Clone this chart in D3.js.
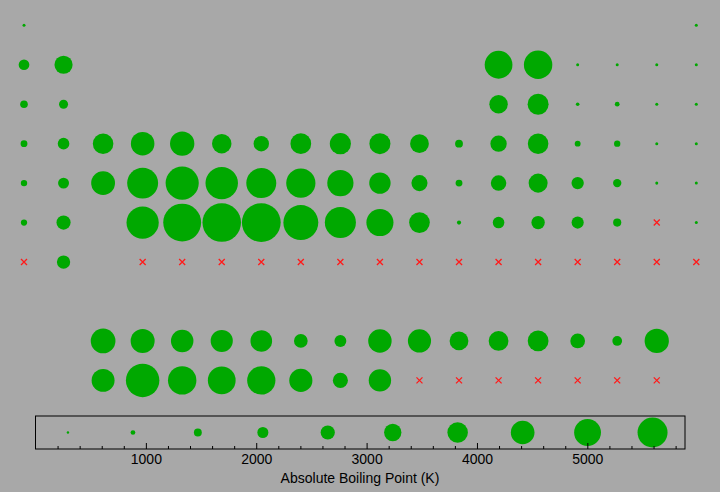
<!DOCTYPE html>
<html>
<head>
<meta charset="utf-8">
<script src="https://cdn.jsdelivr.net/npm/d3@7"></script>
<style>
  body { margin: 0; background: #a8a8a8; }
  svg { display: block; font-family: "Liberation Sans", Arial, sans-serif; }
</style>
</head>
<body>
<script>
const width = 720;
const height = 492;

// element symbol, group (column), period row (9 = lanthanides, 10 = actinides), boiling point in K (null = unknown)
const symbols = [
  "H", "He",
  "Li", "Be", "B", "C", "N", "O", "F", "Ne",
  "Na", "Mg", "Al", "Si", "P", "S", "Cl", "Ar",
  "K", "Ca", "Sc", "Ti", "V", "Cr", "Mn", "Fe", "Co", "Ni", "Cu", "Zn", "Ga", "Ge", "As", "Se", "Br", "Kr",
  "Rb", "Sr", "Y", "Zr", "Nb", "Mo", "Tc", "Ru", "Rh", "Pd", "Ag", "Cd", "In", "Sn", "Sb", "Te", "I", "Xe",
  "Cs", "Ba", "Hf", "Ta", "W", "Re", "Os", "Ir", "Pt", "Au", "Hg", "Tl", "Pb", "Bi", "Po", "At", "Rn",
  "Fr", "Ra", "Rf", "Db", "Sg", "Bh", "Hs", "Mt", "Ds", "Rg", "Cn", "Nh", "Fl", "Mc", "Lv", "Ts", "Og",
  "La", "Ce", "Pr", "Nd", "Pm", "Sm", "Eu", "Gd", "Tb", "Dy", "Ho", "Er", "Tm", "Yb", "Lu",
  "Ac", "Th", "Pa", "U", "Np", "Pu", "Am", "Cm", "Bk", "Cf", "Es", "Fm", "Md", "No", "Lr"
];
const groups = [
  1, 18,
  1, 2, 13, 14, 15, 16, 17, 18,
  1, 2, 13, 14, 15, 16, 17, 18,
  1, 2, 3, 4, 5, 6, 7, 8, 9, 10, 11, 12, 13, 14, 15, 16, 17, 18,
  1, 2, 3, 4, 5, 6, 7, 8, 9, 10, 11, 12, 13, 14, 15, 16, 17, 18,
  1, 2, 4, 5, 6, 7, 8, 9, 10, 11, 12, 13, 14, 15, 16, 17, 18,
  1, 2, 4, 5, 6, 7, 8, 9, 10, 11, 12, 13, 14, 15, 16, 17, 18,
  3, 4, 5, 6, 7, 8, 9, 10, 11, 12, 13, 14, 15, 16, 17,
  3, 4, 5, 6, 7, 8, 9, 10, 11, 12, 13, 14, 15, 16, 17
];
const periods = [
  1, 1,
  2, 2, 2, 2, 2, 2, 2, 2,
  3, 3, 3, 3, 3, 3, 3, 3,
  4, 4, 4, 4, 4, 4, 4, 4, 4, 4, 4, 4, 4, 4, 4, 4, 4, 4,
  5, 5, 5, 5, 5, 5, 5, 5, 5, 5, 5, 5, 5, 5, 5, 5, 5, 5,
  6, 6, 6, 6, 6, 6, 6, 6, 6, 6, 6, 6, 6, 6, 6, 6, 6,
  7, 7, 7, 7, 7, 7, 7, 7, 7, 7, 7, 7, 7, 7, 7, 7, 7,
  9, 9, 9, 9, 9, 9, 9, 9, 9, 9, 9, 9, 9, 9, 9,
  10, 10, 10, 10, 10, 10, 10, 10, 10, 10, 10, 10, 10, 10, 10
];
const boilingPoints = [
  20.28, 4.22,
  1615, 2742, 4200, 4300, 77.36, 90.2, 85.03, 27.07,
  1156, 1363, 2792, 3173, 550, 717.8, 239.1, 87.3,
  1032, 1757, 3109, 3560, 3680, 2944, 2334, 3134, 3200, 3186, 2835, 1180, 2477, 3106, 887, 958, 332, 119.9,
  961, 1655, 3609, 4682, 5017, 4912, 4538, 4423, 3968, 3236, 2435, 1040, 2345, 2875, 1860, 1261, 457.4, 165.1,
  944, 2143, 4876, 5731, 5828, 5869, 5285, 4701, 4098, 3129, 629.9, 1746, 2022, 1837, 1235, null, 211.3,
  null, 2010, null, null, null, null, null, null, null, null, null, null, null, null, null, null, null,
  3737, 3633, 3403, 3347, 3273, 2067, 1802, 3546, 3503, 2840, 2993, 3141, 2223, 1469, 3675,
  3471, 5061, 4300, 4200, 4273, 3501, 2284, 3383, null, null, null, null, null, null, null
];

// legend sample values (K)
const legendValues = [294, 883, 1471, 2060, 2648, 3237, 3825, 4414, 5002, 5591];
const majorTicks = [1000, 2000, 3000, 4000, 5000];
const axisLabel = "Absolute Boiling Point (K)";

const elements = symbols.map((s, i) => ({
  symbol: s, group: groups[i], period: periods[i], bp: boilingPoints[i]
}));

const svg = d3.select("body").append("svg")
  .attr("width", width)
  .attr("height", height);

svg.append("rect")
  .attr("width", width)
  .attr("height", height)
  .attr("fill", "#a8a8a8");

const colScale = d3.scaleLinear().domain([1, 18]).range([24, 696.3]);
const rowScale = d3.scaleLinear().domain([1, 10]).range([25.3, 380.4]);
const rScale = d3.scaleLinear().domain([0, 5869]).range([0, 19.4]);

const green = "#00a800";
const red = "#ff1a1a";

const table = svg.append("g").attr("class", "table");

table.selectAll("circle.element")
  .data(elements.filter(d => d.bp != null))
  .join("circle")
  .attr("class", "element")
  .attr("cx", d => colScale(d.group))
  .attr("cy", d => rowScale(d.period))
  .attr("r", d => Math.max(1.5, rScale(d.bp)))
  .attr("fill", green);

// unknown values get a red cross
const cross = 3;
const missing = table.selectAll("g.missing")
  .data(elements.filter(d => d.bp == null))
  .join("g")
  .attr("class", "missing")
  .attr("transform", d => `translate(${colScale(d.group)}, ${rowScale(d.period)})`);

missing.append("path")
  .attr("d", `M${-cross},${-cross}L${cross},${cross}M${-cross},${cross}L${cross},${-cross}`)
  .attr("stroke", red)
  .attr("stroke-width", 1.3)
  .attr("fill", "none");

// legend
const legendTop = 416;
const legendBottom = 449;
const xScale = d3.scaleLinear().domain([0, 5885]).range([35.5, 685]);
const legendR = d3.scaleLinear().domain([0, 5591]).range([0, 15]);

const legend = svg.append("g").attr("class", "legend");

legend.append("rect")
  .attr("x", xScale(0))
  .attr("y", legendTop)
  .attr("width", xScale(5885) - xScale(0))
  .attr("height", legendBottom - legendTop)
  .attr("fill", "none")
  .attr("stroke", "#000")
  .attr("stroke-width", 1);

legend.selectAll("circle")
  .data(legendValues)
  .join("circle")
  .attr("cx", d => xScale(d))
  .attr("cy", (legendTop + legendBottom) / 2)
  .attr("r", d => Math.max(1.2, legendR(d)))
  .attr("fill", green);

const minorTicks = d3.range(200, 5885, 200).filter(v => v % 1000 !== 0);

const minorAxis = d3.axisBottom(xScale)
  .tickValues(minorTicks)
  .tickSize(-3)
  .tickFormat("");

const majorAxis = d3.axisBottom(xScale)
  .tickValues(majorTicks)
  .tickSize(-6)
  .tickPadding(5)
  .tickFormat(d3.format("d"));

const minorG = legend.append("g")
  .attr("transform", `translate(0, ${legendBottom})`)
  .call(minorAxis);
minorG.select(".domain").remove();

const majorG = legend.append("g")
  .attr("transform", `translate(0, ${legendBottom})`)
  .call(majorAxis);
majorG.select(".domain").remove();

legend.selectAll(".tick line").attr("stroke", "#000");
legend.selectAll(".tick text")
  .attr("fill", "#000")
  .style("font-size", "14px")
  .style("font-family", "'Liberation Sans', Arial, sans-serif");

svg.append("text")
  .attr("x", 360)
  .attr("y", 483)
  .attr("text-anchor", "middle")
  .style("font-size", "14px")
  .attr("fill", "#000")
  .text(axisLabel);
</script>
</body>
</html>
